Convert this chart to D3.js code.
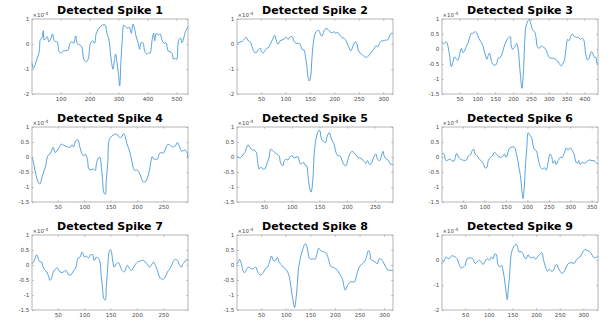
<!DOCTYPE html>
<html>
<head>
<meta charset="utf-8">
<script src="https://cdn.jsdelivr.net/npm/d3@7"></script>
<style>
body { margin: 0; background: #fff; }
text { font-family: "DejaVu Sans", sans-serif; }
</style>
</head>
<body>
<svg id="fig" width="616" height="324"></svg>
<script>
// waveforms, amplitude in units of 1e-4, [sample, value]
const spike1 = [[1,-0.77],[6,-0.97],[19,-0.57],[26,-0.31],[30,0.19],[35,0.23],[40,0.53],[43,0.16],[49,0.23],[54,0.29],[59,0.09],[65,0.19],[72,0.4],[78,0.13],[84,0.09],[88,0.09],[95,-0.31],[103,-0.35],[109,-0.27],[118,-0.27],[126,-0.24],[132,0.03],[139,0.09],[145,0.03],[152,0.32],[158,0],[166,-0.04],[173,-0.11],[180,-0.61],[189,-0.71],[196,-0.57],[203,0.03],[210,0.13],[217,0.03],[223,0.43],[230,0.59],[237,0.69],[246,0.76],[253,0.77],[260,0.43],[267,0.16],[274,-0.57],[281,-1.01],[285,-0.71],[290,-0.41],[295,-0.77],[299,-1.11],[304,-1.68],[308,-0.77],[313,0.19],[318,0.76],[324,0.69],[331,0.63],[338,0.67],[344,0.43],[350,0.8],[355,0.63],[361,0.29],[368,0.03],[373,-0.21],[378,0.05],[384,0.05],[391,-0.31],[398,-0.4],[405,-0.35],[409,-0.37],[416,0.16],[421,0.43],[425,0.13],[430,0.43],[437,0.36],[444,0.4],[450,0.16],[457,0.03],[464,0.05],[471,-0.27],[478,-0.31],[485,-0.37],[490,-0.61],[496,-0.57],[501,-0.61],[508,0.16],[515,0.23],[519,0.05],[524,0.19],[531,0.49],[535,0.59],[540,0.69]];
const spike2 = [[1,0.03],[7,0.08],[12,0.11],[16,0.19],[20,0.27],[24,0.13],[28,0.09],[32,-0.11],[36,-0.31],[40,-0.35],[44,-0.24],[49,-0.17],[51,-0.31],[55,-0.35],[58,-0.27],[62,-0.17],[66,-0.13],[70,0.03],[74,0.19],[78,0.35],[82,0.09],[85,-0.01],[89,0.13],[93,0.16],[97,0.19],[101,0.27],[106,0.19],[110,0.29],[114,0.29],[118,0.09],[122,0.03],[126,0.03],[130,0],[134,-0.21],[138,-0.24],[141,-0.51],[144,-0.91],[146,-1.31],[149,-1.48],[152,-1.24],[154,-0.64],[157,0.03],[161,0.43],[165,0.53],[169,0.53],[172,0.36],[175,0.32],[179,0.53],[183,0.61],[187,0.59],[191,0.49],[195,0.45],[199,0.49],[203,0.43],[207,0.47],[211,0.35],[215,0.27],[220,0.23],[224,0.13],[228,-0.04],[232,-0.24],[234,-0.27],[239,-0.04],[243,0.09],[247,-0.04],[249,-0.24],[253,-0.37],[258,-0.44],[262,-0.51],[266,-0.53],[270,-0.48],[274,-0.37],[278,-0.27],[282,-0.17],[285,-0.07],[289,-0.11],[293,0.05],[297,0.13],[301,0.13],[305,0.16],[309,0.16],[313,0.32],[317,0.43],[320,0.4]];
const spike3 = [[1,0.24],[6,0.17],[9,0.21],[13,0.24],[18,0.08],[22,-0.2],[27,-0.59],[32,-0.42],[36,-0.26],[41,-0.34],[46,-0.37],[50,-0.2],[55,0.02],[60,-0.12],[64,-0.06],[69,0.08],[74,0.21],[78,0.36],[83,0.52],[88,0.52],[94,0.58],[99,0.52],[104,0.36],[110,0.24],[115,0.13],[121,-0.14],[127,-0.34],[130,-0.23],[134,-0.14],[140,-0.42],[145,-0.53],[151,-0.53],[154,-0.5],[158,-0.31],[164,-0.28],[169,-0.17],[175,0.08],[180,0.24],[186,0.36],[192,0.41],[195,0.1],[199,-0.01],[205,0.08],[210,0.19],[214,0.02],[218,-0.48],[221,-0.92],[225,-1.31],[229,-0.76],[233,0.3],[236,0.74],[242,0.94],[246,0.99],[249,0.88],[255,0.63],[260,0.58],[264,0.41],[268,0.08],[273,0.02],[279,0.1],[285,0.06],[290,0.02],[296,-0.14],[301,-0.28],[307,-0.31],[313,-0.31],[318,-0.34],[324,-0.39],[329,-0.48],[335,-0.56],[340,-0.48],[344,-0.37],[348,-0.03],[353,0.32],[357,0.28],[361,0.39],[366,0.5],[372,0.41],[378,0.39],[383,0.39],[389,0.32],[393,0.36],[398,0.3],[404,-0.2],[409,-0.37],[413,-0.31],[419,-0.09],[422,-0.12],[428,-0.28],[432,-0.28],[435,-0.48],[438,-0.46]];
const spike4 = [[1,-0.03],[4,-0.18],[6,-0.4],[9,-0.62],[12,-0.81],[16,-0.9],[20,-0.67],[24,-0.45],[27,-0.29],[31,0.04],[35,0.1],[39,0.26],[41,0.32],[45,0.15],[49,0.23],[53,0.32],[56,0.43],[60,0.4],[64,0.37],[68,0.34],[73,0.32],[77,0.41],[80,0.34],[84,0.54],[88,0.57],[92,0.32],[96,0.1],[99,0.04],[102,0.1],[106,-0.07],[109,-0.4],[113,-0.43],[117,-0.4],[121,-0.45],[123,-0.25],[127,-0.03],[130,-0.01],[132,-0.23],[135,-0.78],[137,-1.17],[140,-1.24],[142,-0.78],[145,-0.12],[147,0.54],[151,0.67],[155,0.73],[159,0.76],[162,0.76],[165,0.7],[167,0.65],[171,0.67],[175,0.78],[177,0.73],[181,0.45],[185,0.26],[189,-0.01],[193,-0.34],[196,-0.45],[200,-0.43],[204,-0.51],[208,-0.67],[211,-0.81],[215,-0.84],[219,-0.73],[223,-0.51],[227,-0.12],[229,0.01],[232,-0.07],[235,-0.07],[239,-0.07],[243,0.12],[247,0.15],[250,0.12],[254,0.26],[258,0.41],[262,0.41],[266,0.34],[269,0.34],[273,0.37],[277,0.48],[281,0.34],[285,0.19],[288,0.21],[292,0.23],[295,0.15],[297,-0.01]];
const spike5 = [[1,0.04],[5,-0.03],[8,-0.01],[12,0.08],[15,0.15],[19,0.34],[21,0.41],[25,0.3],[29,0.23],[32,0.23],[36,0.15],[38,-0.12],[41,-0.4],[44,-0.34],[48,-0.4],[51,-0.4],[55,-0.23],[59,-0.01],[62,0.26],[66,0.21],[69,0.15],[73,0.1],[77,0.04],[80,-0.21],[84,-0.29],[86,-0.14],[90,-0.07],[93,-0.1],[97,0.01],[101,0.04],[104,-0.03],[108,-0.01],[111,0.01],[115,-0.21],[117,-0.23],[121,-0.18],[125,-0.29],[127,-0.29],[129,-0.56],[132,-1.0],[135,-1.17],[138,-0.78],[141,0.21],[145,0.7],[149,0.89],[151,0.87],[153,0.65],[157,0.52],[161,0.48],[164,0.7],[168,0.81],[170,0.7],[173,0.54],[176,0.45],[180,0.15],[183,0.04],[187,0.04],[191,-0.12],[194,-0.25],[198,-0.29],[201,-0.12],[205,0.1],[209,0.19],[212,0.15],[216,0.08],[219,-0.01],[223,-0.03],[227,-0.07],[230,-0.14],[234,-0.21],[237,-0.12],[241,-0.25],[245,-0.18],[248,-0.01],[252,0.1],[255,-0.07],[259,-0.12],[263,0.1],[265,0.19],[267,0.04],[271,-0.07],[275,-0.12],[278,-0.23],[283,-0.25]];
const spike6 = [[1,0.1],[4,0.12],[7,0.04],[10,-0.12],[15,-0.1],[20,-0.07],[24,-0.12],[29,-0.14],[32,-0.01],[35,0.12],[40,-0.01],[44,-0.07],[49,-0.1],[54,-0.12],[58,-0.1],[63,0.04],[68,0.08],[72,0.23],[75,0.26],[78,0.1],[83,0.04],[88,-0.07],[92,-0.12],[97,-0.21],[102,-0.37],[106,-0.34],[109,-0.12],[114,-0.01],[119,0.04],[123,0.15],[128,0.1],[133,0.01],[137,-0.01],[142,0.01],[147,0.1],[150,-0.01],[154,0.1],[157,0.26],[162,0.32],[167,0.34],[171,0.3],[174,0.15],[178,-0.12],[181,-0.4],[184,-0.62],[187,-1.06],[190,-1.39],[193,-1.0],[196,-0.23],[199,0.32],[202,0.81],[206,0.73],[210,0.65],[213,0.43],[216,0.26],[221,0.21],[226,-0.1],[230,-0.32],[235,-0.4],[240,-0.36],[244,-0.43],[249,-0.14],[253,0.1],[257,0.01],[260,-0.21],[264,-0.12],[267,-0.25],[272,-0.12],[277,-0.01],[281,-0.03],[286,0.12],[291,0.3],[295,0.23],[300,0.3],[305,0.21],[309,0.1],[314,-0.18],[317,-0.21],[320,-0.12],[323,-0.25],[328,-0.18],[333,-0.21],[337,-0.18],[342,-0.12],[346,-0.1],[351,-0.12],[356,-0.12],[360,-0.18],[365,-0.23]];
const spike7 = [[1,0.04],[4,0.1],[7,0.23],[10,0.34],[12,0.26],[15,0.12],[19,0.1],[22,-0.07],[26,-0.18],[29,-0.23],[33,-0.4],[35,-0.51],[38,-0.45],[41,-0.25],[45,-0.14],[49,-0.1],[51,-0.14],[54,-0.23],[58,-0.25],[61,-0.23],[64,-0.18],[67,-0.21],[70,-0.32],[73,-0.34],[77,-0.29],[80,-0.18],[84,-0.1],[88,0.21],[92,0.26],[96,0.43],[98,0.37],[101,0.26],[104,0.3],[108,0.23],[112,0.34],[116,0.34],[119,0.15],[123,0.26],[127,0.23],[130,0.1],[132,-0.29],[135,-0.78],[137,-1.11],[140,-1.17],[142,-0.73],[145,-0.01],[147,0.41],[150,0.52],[152,0.41],[155,0.04],[157,-0.07],[161,0.04],[165,0.08],[169,-0.07],[172,-0.18],[176,-0.23],[180,-0.07],[182,-0.01],[186,-0.12],[190,-0.18],[194,-0.07],[198,0.04],[201,0.1],[205,0.12],[209,0.15],[213,0.15],[216,0.1],[220,0.01],[224,-0.07],[228,0.01],[232,0.1],[235,-0.01],[239,-0.18],[243,-0.4],[247,-0.47],[250,-0.47],[254,-0.4],[258,-0.23],[262,-0.14],[266,-0.01],[269,0.12],[273,0.19],[277,0.15],[281,-0.01],[285,-0.07],[287,0.04],[291,0.1],[295,0.19],[297,0.15]];
const spike8 = [[1,0.04],[4,0.1],[6,0.19],[9,0.1],[12,-0.12],[14,-0.23],[17,-0.25],[21,-0.12],[24,-0.07],[28,-0.1],[32,-0.14],[36,-0.1],[39,-0.07],[43,-0.23],[47,-0.32],[51,-0.32],[55,-0.23],[59,-0.12],[63,-0.07],[67,0.1],[71,0.3],[75,0.15],[79,0.15],[83,0.26],[87,0.08],[91,0.01],[95,-0.07],[99,-0.12],[104,-0.23],[108,-0.45],[110,-0.67],[113,-1.0],[116,-1.28],[118,-1.42],[121,-1.11],[124,-0.56],[126,-0.12],[131,0.32],[135,0.54],[139,0.7],[141,0.7],[144,0.54],[148,0.23],[152,0.19],[156,0.21],[160,0.19],[163,0.34],[167,0.56],[171,0.48],[175,0.45],[179,0.43],[183,0.37],[187,0.19],[191,-0.03],[195,-0.07],[199,-0.1],[203,-0.14],[207,-0.23],[211,-0.34],[215,-0.45],[218,-0.69],[221,-0.84],[224,-0.73],[228,-0.62],[232,-0.56],[236,-0.56],[240,-0.56],[244,-0.34],[248,-0.12],[252,-0.01],[256,0.04],[260,0.1],[264,0.26],[268,0.48],[271,0.41],[273,0.19],[277,0.15],[282,0.1],[286,0.04],[290,0.21],[294,0.19],[298,0.1],[302,-0.03],[306,-0.14],[310,-0.18],[314,-0.18],[318,-0.18]];
const spike9 = [[1,-0.14],[4,-0.08],[7,0.03],[9,0.12],[12,0.08],[16,0.05],[21,0.16],[25,0.16],[29,0.12],[33,0.05],[38,-0.21],[42,-0.32],[46,-0.28],[50,-0.21],[54,0.05],[59,0.08],[63,0.08],[67,0.03],[71,-0.14],[75,-0.08],[80,-0.01],[84,-0.08],[88,-0.18],[92,-0.05],[96,0.05],[101,-0.01],[105,0.12],[109,0.05],[113,0.25],[116,0.21],[119,-0.14],[123,-0.28],[127,-0.21],[130,-0.41],[133,-0.74],[136,-1.2],[139,-1.59],[141,-1.2],[144,-0.61],[147,0.18],[151,0.47],[155,0.58],[158,0.64],[161,0.51],[164,0.32],[168,0.34],[172,0.25],[176,0.08],[179,0.05],[183,0.21],[186,0.12],[191,0.08],[195,0.12],[199,0.03],[203,0.12],[207,0.21],[212,0.29],[216,-0.01],[220,-0.28],[224,-0.45],[228,-0.37],[233,-0.45],[237,-0.41],[241,-0.21],[244,-0.18],[247,-0.32],[251,-0.45],[255,-0.54],[259,-0.47],[264,-0.28],[268,-0.14],[272,-0.11],[276,-0.11],[280,-0.14],[285,-0.01],[289,0.08],[293,0.12],[297,0.25],[301,0.38],[304,0.42],[308,0.38],[313,0.34],[317,0.25],[321,0.12],[325,0.08],[331,0.16]];

const spikes = [spike1, spike2, spike3, spike4, spike5, spike6, spike7, spike8, spike9];
const titles = ['Detected Spike 1', 'Detected Spike 2', 'Detected Spike 3',
                'Detected Spike 4', 'Detected Spike 5', 'Detected Spike 6',
                'Detected Spike 7', 'Detected Spike 8', 'Detected Spike 9'];
const xMax = [540, 320, 438, 297, 283, 365, 297, 318, 331];
const yMin = [-2, -2, -1.5, -1.5, -1.5, -1.5, -1.5, -1.5, -2];
const xTicks = [
    [100, 200, 300, 400, 500],
    [50, 100, 150, 200, 250, 300],
    [50, 100, 150, 200, 250, 300, 350, 400],
    [50, 100, 150, 200, 250],
    [50, 100, 150, 200, 250],
    [50, 100, 150, 200, 250, 300, 350],
    [50, 100, 150, 200, 250],
    [50, 100, 150, 200, 250, 300],
    [50, 100, 150, 200, 250, 300]
];
const yTicksWide = [-2, -1, 0, 1];
const yTicksFine = [-1.5, -1, -0.5, 0, 0.5, 1];

const svg = d3.select('#fig');
const colLeft = [32, 237, 442];
const rowTop = [19, 127, 235];
const axW = 156, axH = 75;
const tickLen = 1.6;
const axisColor = '#a3a3a3';
const labelColor = '#4a4a4a';

spikes.forEach((data, i) => {
    let left = colLeft[i % 3];
    let top = rowTop[Math.floor(i / 3)];

    let x = d3.scaleLinear().domain([1, xMax[i]]).range([0, axW]);
    let y = d3.scaleLinear().domain([yMin[i], 1]).range([axH, 0]);
    let yTicks = yMin[i] === -2 ? yTicksWide : yTicksFine;

    let g = svg.append('g').attr('transform', `translate(${left},${top})`);

    // box
    g.append('rect')
        .attr('width', axW)
        .attr('height', axH)
        .attr('fill', 'none')
        .attr('stroke', axisColor)
        .attr('stroke-width', 0.8);

    let xb = g.append('g')
        .attr('transform', `translate(0,${axH})`)
        .call(d3.axisBottom(x).tickValues(xTicks[i]).tickSizeInner(-tickLen).tickSizeOuter(0).tickPadding(3));
    let xt = g.append('g')
        .call(d3.axisTop(x).tickValues(xTicks[i]).tickSizeInner(-tickLen).tickSizeOuter(0).tickFormat(''));
    let yl = g.append('g')
        .call(d3.axisLeft(y).tickValues(yTicks).tickSizeInner(-tickLen).tickSizeOuter(0).tickPadding(2.6)
            .tickFormat(d => String(d)));
    let yr = g.append('g')
        .attr('transform', `translate(${axW},0)`)
        .call(d3.axisRight(y).tickValues(yTicks).tickSizeInner(-tickLen).tickSizeOuter(0).tickFormat(''));

    [xb, xt, yl, yr].forEach(a => {
        a.select('.domain').remove();
        a.selectAll('line').attr('stroke', axisColor).attr('stroke-width', 0.8);
        a.selectAll('text')
            .attr('fill', labelColor)
            .style('font-size', '5.6px')
            .style('font-family', '"DejaVu Sans", sans-serif');
    });

    // exponent label
    let ex = g.append('text')
        .attr('x', 0.5)
        .attr('y', -2)
        .attr('fill', labelColor)
        .style('font-size', '5.4px');
    ex.append('tspan').text('\u00d710');
    ex.append('tspan').attr('dy', -2).style('font-size', '4.4px').text('-4');

    g.append('text')
        .attr('x', axW / 2)
        .attr('y', -5.5)
        .attr('text-anchor', 'middle')
        .attr('fill', '#000')
        .style('font-size', '11px')
        .style('font-weight', 'bold')
        .text(titles[i]);

    let line = d3.line()
        .x(d => x(d[0]))
        .y(d => y(d[1]))
        .curve(d3.curveCatmullRom.alpha(0.5));

    g.append('path')
        .datum(data)
        .attr('d', line)
        .attr('fill', 'none')
        .attr('stroke', '#2d8bd3')
        .attr('stroke-width', 0.8);
});
</script>
</body>
</html>
